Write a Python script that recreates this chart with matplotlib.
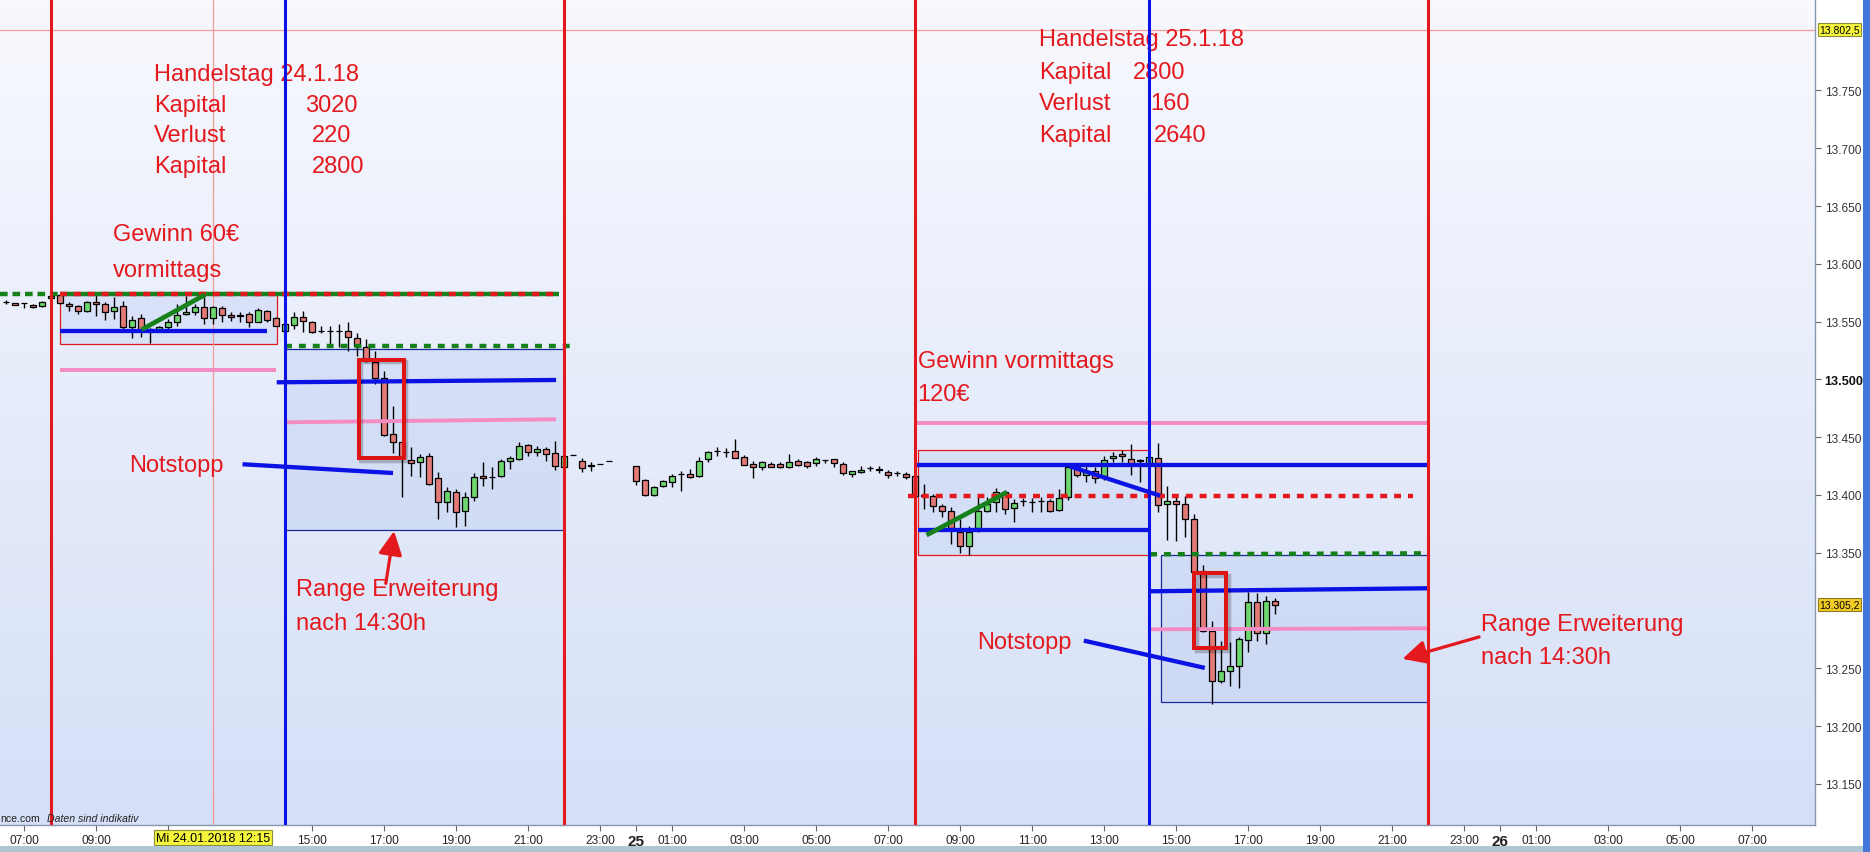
import matplotlib
matplotlib.use('Agg')
import matplotlib.pyplot as plt
import numpy as np
from matplotlib.patches import Rectangle
from matplotlib.font_manager import fontManager
from matplotlib.colors import LinearSegmentedColormap
import matplotlib.transforms as mtrans

names = {f.name for f in fontManager.ttflist}
FONT = 'Liberation Sans' if 'Liberation Sans' in names else 'DejaVu Sans'
NARROW = 'Liberation Sans Narrow' if 'Liberation Sans Narrow' in names else FONT
plt.rcParams['font.family'] = [FONT, 'DejaVu Sans']
plt.rcParams['lines.scale_dashes'] = False

# ---------------- data (hours since 24.01.2018 00:00, prices) ----------------
T1 = [6.5, 6.75, 7.0, 7.25, 7.5, 7.75, 8.0, 8.25, 8.5, 8.75,
      9.0, 9.25, 9.5, 9.75, 10.0, 10.25, 10.5, 10.75, 11.0, 11.25,
      11.5, 11.75, 12.0, 12.25, 12.5, 12.75, 13.0, 13.25, 13.5, 13.75,
      14.0, 14.25, 14.5, 14.75, 15.0, 15.25, 15.5, 15.75, 16.0, 16.25,
      16.5, 16.75, 17.0, 17.25, 17.5, 17.75, 18.0, 18.25, 18.5, 18.75,
      19.0, 19.25, 19.5, 19.75, 20.0, 20.25, 20.5, 20.75, 21.0, 21.25,
      21.5, 21.75, 22.0, 22.25, 22.5, 22.75, 23.0, 23.25]
O1 = [13567, 13566, 13565.8, 13564.7, 13563.2, 13570, 13573.3, 13565.3, 13563.2, 13559.5,
      13566.7, 13565.3, 13559.5, 13563.2, 13545.1, 13552.9, 13543, 13542, 13545, 13549.4,
      13557, 13558.6, 13563, 13552.9, 13561.5, 13555.7, 13555.2, 13556.6, 13550, 13559.5,
      13552.9, 13541.6, 13547.4, 13553.7, 13549.9, 13541.6, 13542, 13542, 13542.2, 13535.5,
      13528.3, 13515.3, 13501.2, 13452.8, 13446.2, 13430, 13428.3, 13433.5, 13414.4, 13393.6,
      13402.9, 13385.9, 13398.6, 13416.2, 13415.3, 13416.2, 13429.7, 13431.1, 13443.3, 13437.5,
      13439.8, 13436.3, 13424.4, 13434.6, 13429.7, 13425.4, 13426.8, 13429.1]
H1 = [13569, 13566.5, 13566, 13565, 13567.5, 13572.5, 13574, 13566.7, 13564.4, 13568.1,
      13576, 13566.7, 13571, 13567.6, 13554.6, 13556.6, 13544.5, 13546, 13552.3, 13565.3,
      13572.5, 13565.3, 13573.3, 13563.2, 13563.8, 13558, 13558, 13558, 13561.5, 13560.4,
      13553.7, 13548.2, 13558.6, 13559.5, 13550.8, 13546.5, 13546.5, 13547.9, 13549.4, 13539.8,
      13535, 13524.9, 13507.6, 13476.7, 13446.5, 13441.2, 13435.5, 13436.4, 13420.2, 13406.6,
      13405.2, 13402.9, 13419, 13428.8, 13424, 13431.1, 13434, 13445.6, 13444.1, 13442.1,
      13441.8, 13447, 13435, 13434.8, 13432, 13428.3, 13427, 13429.3]
L1 = [13565, 13564, 13561.5, 13562, 13562.5, 13569.5, 13565, 13559, 13556.6, 13558.1,
      13554.6, 13551.7, 13552, 13542.2, 13535.6, 13536.4, 13531.2, 13541, 13542.2, 13546.5,
      13555.7, 13555.7, 13548, 13548, 13549.4, 13550.8, 13549.4, 13545.1, 13549.4, 13550,
      13546, 13541, 13543.6, 13540.7, 13539.8, 13539.8, 13527.7, 13527.7, 13524.9, 13520.5,
      13514.8, 13496, 13451.3, 13436.3, 13398, 13416.7, 13415.9, 13409, 13379.2, 13385,
      13372, 13373.5, 13395, 13408, 13405.2, 13415.3, 13422.5, 13430, 13434, 13434,
      13429.7, 13422, 13423, 13434.4, 13420.2, 13421, 13426.6, 13428.9]
C1 = [13567, 13564.5, 13565.8, 13562.7, 13567.3, 13572, 13565.8, 13563.8, 13559.5, 13566.7,
      13565.3, 13558.6, 13562.4, 13545.1, 13551.7, 13543.1, 13544, 13545.6, 13549.4, 13555.7,
      13558.4, 13562.4, 13552.9, 13562.4, 13555.7, 13553.7, 13555.2, 13550, 13560.4, 13551.7,
      13546.5, 13547.8, 13553.7, 13550.2, 13541.3, 13541.6, 13542.2, 13542, 13536.4, 13529.2,
      13516.2, 13501.2, 13451.9, 13446.2, 13432.6, 13427.4, 13432.6, 13409.5, 13393.6, 13403.8,
      13385, 13398.6, 13415.9, 13414.4, 13415.3, 13429.1, 13432, 13442.7, 13436.9, 13439.8,
      13435.5, 13425.4, 13433.5, 13434.6, 13423.1, 13425.4, 13426.8, 13429.1]

T2 = [24.0, 24.25, 24.5, 24.75, 25.0, 25.25, 25.5, 25.75, 26.0, 26.25,
      26.5, 26.75, 27.0, 27.25, 27.5, 27.75, 28.0, 28.25, 28.5, 28.75,
      29.0, 29.25, 29.5, 29.75, 30.0, 30.25, 30.5, 30.75, 31.0, 31.25,
      31.5, 31.75, 32.0, 32.25, 32.5, 32.75, 33.0, 33.25, 33.5, 33.75,
      34.0, 34.25, 34.5, 34.75, 35.0, 35.25, 35.5, 35.75, 36.0, 36.25,
      36.5, 36.75, 37.0, 37.25, 37.5, 37.75, 38.0, 38.25, 38.5, 38.75,
      39.0, 39.25, 39.5, 39.75, 40.0, 40.25, 40.5, 40.75, 41.0, 41.25,
      41.5, 41.75]
O2 = [13424.8, 13413.3, 13400, 13408.1, 13411, 13418.2, 13418.2, 13416.2, 13431.1, 13437.8,
      13436.9, 13438.3, 13432.6, 13426.8, 13424.5, 13426.8, 13426.8, 13424.5, 13429.7, 13428.3,
      13427.4, 13430.3, 13431.1, 13426.8, 13418.2, 13419.6, 13423, 13421.9, 13420.2, 13419,
      13418.2, 13416.1, 13400, 13399.4, 13390.2, 13385.9, 13368.3, 13355.6, 13371.2, 13385.9,
      13393.7, 13402.3, 13388.5, 13394.5, 13393.7, 13394.5, 13394.5, 13387.3, 13398, 13423.9,
      13417.3, 13421, 13416.7, 13431.7, 13435.2, 13431.1, 13430, 13425.9, 13431.7, 13392.2,
      13394.5, 13392.2, 13379.2, 13334.5, 13282.1, 13238.8, 13247.5, 13251.8, 13274.6, 13307.2,
      13280.6, 13308.6]
H2 = [13425.4, 13413.5, 13408.1, 13413.3, 13418.2, 13421, 13422.5, 13432.6, 13438.3, 13441.2,
      13440.4, 13448.4, 13434.6, 13429.7, 13429.7, 13428.3, 13428.8, 13435.5, 13431.1, 13429.7,
      13432.6, 13430.5, 13431.3, 13428.3, 13421, 13424.8, 13425.4, 13425.4, 13421.9, 13421,
      13419.6, 13416.7, 13409.5, 13400.9, 13392.2, 13389.3, 13379.2, 13372.9, 13398, 13398,
      13405.8, 13404.6, 13396.5, 13397.1, 13397.1, 13398, 13396.5, 13405.2, 13426.8, 13425.4,
      13425.4, 13423.9, 13434, 13437.5, 13439.2, 13444.1, 13431.1, 13433, 13445, 13408.1,
      13398, 13399.4, 13383.6, 13339.4, 13290.7, 13274, 13272.6, 13276.9, 13315.8, 13314.9,
      13312.9, 13310.6]
L2 = [13408.6, 13399.4, 13399.4, 13406.6, 13406.6, 13403.8, 13415, 13415.3, 13428.3, 13433.5,
      13432.6, 13431.7, 13426, 13414.7, 13421.6, 13423.9, 13423.4, 13423.4, 13424.8, 13423.4,
      13425.4, 13427.4, 13424, 13417.6, 13415.3, 13419.4, 13421, 13419, 13414.7, 13416.7,
      13413.8, 13398, 13387.9, 13385, 13380.7, 13357.6, 13349.8, 13348.4, 13367.7, 13385,
      13385.6, 13383.6, 13376.4, 13390.8, 13385.6, 13385, 13385, 13386.4, 13396, 13415.3,
      13411, 13410.4, 13413.3, 13428.3, 13428.3, 13417.6, 13411.5, 13425, 13385, 13361.1,
      13359.9, 13363.4, 13333.1, 13281.2, 13219.2, 13237.4, 13235, 13232.8, 13264.5, 13273.4,
      13271.1, 13297]
C2 = [13412.4, 13400, 13406.6, 13412.4, 13416.7, 13418.2, 13415.3, 13429.7, 13436.9, 13437.8,
      13436.9, 13431.7, 13426.2, 13423.9, 13428.3, 13424.5, 13424.5, 13428.3, 13426.2, 13425.4,
      13431.1, 13430.3, 13427.4, 13418.7, 13420.5, 13421.9, 13423, 13421.9, 13417.3, 13419,
      13415.3, 13398.8, 13399, 13390.8, 13385.9, 13371.2, 13355.6, 13368.3, 13385.9, 13392.2,
      13402.3, 13387.9, 13392.8, 13394.5, 13393.7, 13394.5, 13385.9, 13397.1, 13423.9, 13417.3,
      13420.8, 13414.4, 13430.6, 13434, 13433.5, 13426.8, 13429, 13432.6, 13391.6, 13394.5,
      13392.2, 13379.2, 13333.7, 13282.1, 13238.8, 13247.5, 13251.8, 13275.4, 13307.2, 13280.6,
      13308.6, 13305.2]

# session markers (hours)
red_vlines = [7.75, 22.0, 31.75, 46.0]
blue_vlines = [14.25, 38.25]
cross_h, cross_price = 12.25, 13802.5
last_price = 13305.2

# drawn levels: (h_start, h_end, price_start, price_end)
blue_levels = [(8.0, 13.76, 13541.6, 13541.6), (14.02, 21.78, 13497.5, 13499.5),
               (31.8, 46.0, 13426.2, 13426.2), (31.82, 38.28, 13370.0, 13370.0),
               (38.28, 46.0, 13316.7, 13319.3)]
blue_slopes = [(36.05, 38.56, 13424.8, 13399.4)]
stop_lines = [(13.07, 17.25, 13426.6, 13419.0), (36.44, 39.8, 13274.0, 13250.4)]
pink_levels = [(8.0, 14.0, 13508.1, 13508.1), (14.28, 21.78, 13462.9, 13465.5),
               (31.78, 46.0, 13462.0, 13462.0), (38.28, 46.0, 13283.8, 13284.7)]
green_trends = [(10.27, 12.03, 13543.1, 13573.3), (32.07, 34.3, 13365.3, 13402.3)]
green_dashed = [(14.25, 22.2, 13529.2, 13529.2), (38.28, 46.0, 13348.7, 13349.5)]
top_level = 13573.5
top_level_span = (6.333, 8.0, 21.85)
red_dashed = [(31.56, 45.58, 13399.4, 13399.4)]
red_ranges = [(8.0, 14.02, 13530.7, 13573.9), (31.84, 38.25, 13348.1, 13438.6)]
blue_ranges = [(14.25, 22.0, 13370.0, 13526.3), (38.57, 46.0, 13220.6, 13348.4)]
highlight_boxes = [(16.3, 17.55, 13431.7, 13516.8), (39.5, 40.4, 13267.6, 13332.5)]
arrows = [((17.05, 13323.5), (17.28, 13368.9)), ((47.42, 13277.2), (45.29, 13258.2))]

y_ticks = [13150, 13200, 13250, 13350, 13400, 13450, 13500, 13550, 13600, 13650, 13700, 13750]
x_tick_pos = [7, 9, 11, 15, 17, 19, 21, 23, 24, 25, 27, 29, 31, 33, 35, 37, 39, 41, 43, 45, 47,
              48, 49, 51, 53, 55]
x_tick_lab = ['07:00', '09:00', '11:00', '15:00', '17:00', '19:00', '21:00', '23:00', '25',
              '01:00', '03:00', '05:00', '07:00', '09:00', '11:00', '13:00', '15:00', '17:00', '19:00',
              '21:00', '23:00', '26', '01:00', '03:00', '05:00', '07:00']

notes = [
    (10.61, 13759.3, 'Handelstag 24.1.18'),
    (10.61, 13732.4, 'Kapital'), (14.81, 13732.4, '3020'),
    (10.61, 13706.5, 'Verlust'), (15.01, 13706.5, '220'),
    (10.61, 13679.7, 'Kapital'), (14.99, 13679.7, '2800'),
    (9.48, 13620.3, 'Gewinn 60€'), (9.48, 13589.7, 'vormittags'),
    (9.91, 13420.5, 'Notstopp'),
    (14.55, 13313.2, 'Range Erweiterung'), (14.55, 13284.3, 'nach 14:30h'),
    (35.19, 13789.3, 'Handelstag 25.1.18'),
    (35.19, 13760.5, 'Kapital'), (37.80, 13760.5, '2800'),
    (35.19, 13733.9, 'Verlust'), (38.28, 13733.9, '160'),
    (35.19, 13706.5, 'Kapital'), (38.39, 13706.5, '2640'),
    (31.82, 13510.3, 'Gewinn vormittags'), (31.82, 13482.4, '120€'),
    (33.47, 13267.8, 'Notstopp'),
    (47.47, 13283.3, 'Range Erweiterung'), (47.47, 13254.4, 'nach 14:30h'),
]

# ---------------- styling ----------------
RED = '#E3191D'
BLUE = '#0A12E4'
PINK = '#F48CC4'
GREEN = '#16801A'
C_UP = '#6ED66E'
C_DN = '#E27A78'

W, H = 1870, 853
fig = plt.figure(figsize=(W / 100, H / 100), dpi=100)
fig.patch.set_facecolor('white')
ax = fig.add_axes([0, 27 / H, 1815 / W, 826 / H])
XMIN, XMAX = 6.3333, 56.75
YMIN, YMAX = 13114.5, 13829.1
ax.set_xlim(XMIN, XMAX)
ax.set_ylim(YMIN, YMAX)

# gradient background
cmap = LinearSegmentedColormap.from_list('bg', ['#D5DFF7', '#F8F9FE'])
grad = np.linspace(0, 1, 256).reshape(-1, 1)
ax.imshow(grad, extent=[XMIN, XMAX, YMIN, YMAX], origin='lower', aspect='auto',
          cmap=cmap, zorder=0, interpolation='bicubic')

# range boxes
for (h0, h1, p0, p1) in red_ranges:
    ax.add_patch(Rectangle((h0, p0), h1 - h0, p1 - p0, fc='#C3D2F3', alpha=0.45, ec='none', zorder=1))
    ax.add_patch(Rectangle((h0, p0), h1 - h0, p1 - p0, fc='none', ec=RED, lw=0.9, zorder=1.2))
for (h0, h1, p0, p1) in blue_ranges:
    ax.add_patch(Rectangle((h0, p0), h1 - h0, p1 - p0, fc='#C3D2F3', alpha=0.5, ec='none', zorder=1))
    ax.add_patch(Rectangle((h0, p0), h1 - h0, p1 - p0, fc='none', ec='#1A2A9A', lw=0.9, zorder=1.2))

# candles
bw = 0.18
for T, O, Hh, L, C in ((T1, O1, H1, L1, C1), (T2, O2, H2, L2, C2)):
    for t, o, hi, lo, c in zip(T, O, Hh, L, C):
        up = c >= o
        if hi - lo > 0.5:
            ax.vlines(t, lo, hi, color='black', lw=1.0, zorder=3)
        b = min(o, c)
        hgt = max(abs(c - o), 0.3)
        ax.add_patch(Rectangle((t - bw / 2, b), bw, hgt, fc=C_UP if up else C_DN,
                               ec='black', lw=0.9, zorder=3.1))

# crosshair
ax.axvline(cross_h, color='#F29A9A', lw=0.9, zorder=2)
ax.axhline(cross_price, color='#F29A9A', lw=0.9, zorder=2)

# top level (green/red dashed)
a, b, c = top_level_span
ax.plot([a, b], [top_level, top_level], color=GREEN, lw=3.2, ls=(0, (5.5, 3.5)), zorder=4, solid_capstyle='butt')
ax.plot([b, c], [top_level, top_level], color=GREEN, lw=3.2, zorder=4, solid_capstyle='butt')
ax.plot([b, c], [top_level, top_level], color=RED, lw=3.2, ls=(0, (5, 5)), zorder=4.1)

for (h0, h1, p0, p1) in green_dashed:
    ax.plot([h0, h1], [p0, p1], color=GREEN, lw=3.2, ls=(0, (5, 5)), zorder=4)
for (h0, h1, p0, p1) in red_dashed:
    ax.plot([h0, h1], [p0, p1], color=RED, lw=3.2, ls=(0, (5, 5)), zorder=4)
for (h0, h1, p0, p1) in pink_levels:
    ax.plot([h0, h1], [p0, p1], color=PINK, lw=2.8, zorder=4, solid_capstyle='butt')
for (h0, h1, p0, p1) in blue_levels + blue_slopes + stop_lines:
    ax.plot([h0, h1], [p0, p1], color=BLUE, lw=3.1, zorder=4.2, solid_capstyle='butt')
for (h0, h1, p0, p1) in green_trends:
    ax.plot([h0, h1], [p0, p1], color=GREEN, lw=3.4, zorder=4.2, solid_capstyle='butt')

# highlight boxes with a soft outline shadow
shadow_tr = mtrans.offset_copy(ax.transData, fig=fig, x=2.5, y=-2.5, units='dots')
for (h0, h1, p0, p1) in highlight_boxes:
    ax.add_patch(Rectangle((h0, p0), h1 - h0, p1 - p0, fc='none', ec='black', alpha=0.22, lw=3.2,
                           zorder=4.9, transform=shadow_tr))
    ax.add_patch(Rectangle((h0, p0), h1 - h0, p1 - p0, fc='none', ec='#DD1515', lw=2.9, zorder=5))

# notes
for (x, y, s) in notes:
    ax.text(x, y, s, color=RED, fontsize=17, ha='left', va='baseline', zorder=5.5)

# arrows
for (tail, tip) in arrows:
    ax.annotate('', xy=tip, xytext=tail,
                arrowprops=dict(arrowstyle='-|>,head_length=0.9,head_width=0.45', color=RED, lw=2.3,
                                shrinkA=0, shrinkB=0, mutation_scale=16), zorder=6)

# vertical session lines
for v in red_vlines:
    ax.axvline(v, color=RED, lw=2.2, zorder=6)
for v in blue_vlines:
    ax.axvline(v, color=BLUE, lw=2.2, zorder=6)

# axes styling
for s in ('left', 'top'):
    ax.spines[s].set_visible(False)
for s in ('right', 'bottom'):
    ax.spines[s].set_color('#8898AC')
    ax.spines[s].set_linewidth(1.0)
ax.yaxis.tick_right()
ax.set_yticks(y_ticks)
ax.set_yticklabels([f'{v / 1000:.3f}' for v in y_ticks])
ax.tick_params(axis='y', direction='out', length=4, width=0.8, color='#666666', pad=3,
               labelsize=8.6, labelcolor='#333333')
for lab, v in zip(ax.get_yticklabels(), y_ticks):
    lab.set_fontfamily(FONT)
    if v == 13500:
        lab.set_fontweight('bold')
        lab.set_color('#111111')
        lab.set_fontsize(9.2)
ax.set_xticks(x_tick_pos)
ax.set_xticklabels(x_tick_lab)
ax.tick_params(axis='x', direction='out', length=4, width=0.8, color='#666666', pad=2.5,
               labelsize=8.6, labelcolor='#222222')
for lab, s in zip(ax.get_xticklabels(), x_tick_lab):
    lab.set_fontfamily(NARROW)
    if ':' not in s:
        lab.set_fontweight('bold')
        lab.set_fontsize(11)

# price labels on the right axis
btr = mtrans.blended_transform_factory(ax.transAxes, ax.transData)
ax.text(1.0022, cross_price, '13.802,5', transform=btr, ha='left', va='center', fontsize=7.5,
        color='black', zorder=20, clip_on=False,
        bbox=dict(boxstyle='square,pad=0.12', fc='#F4F43C', ec='#8C8C3C', lw=0.8))
ax.text(1.0022, last_price, '13.305,2', transform=btr, ha='left', va='center', fontsize=7.5,
        color='black', zorder=20, clip_on=False,
        bbox=dict(boxstyle='square,pad=0.12', fc='#F2CC22', ec='#8C7A2C', lw=0.8))

# date label under the crosshair
bxd = mtrans.blended_transform_factory(ax.transData, ax.transAxes)
ax.text(cross_h, -0.0152, 'Mi 24.01.2018 12:15', transform=bxd, ha='center', va='center',
        fontsize=9, color='black', zorder=20, clip_on=False, fontfamily=NARROW,
        bbox=dict(boxstyle='square,pad=0.12', fc='#F4F43C', ec='#8C8C3C', lw=0.8))

# source note
ax.text(0.0, 0.005, 'nce.com', transform=ax.transAxes, fontsize=7.6, color='#222222',
        ha='left', va='baseline', zorder=20)
ax.text(47 / 1815, 0.005, 'Daten sind indikativ', transform=ax.transAxes, fontsize=7.6,
        color='#222222', style='italic', ha='left', va='baseline', zorder=20)

# frame decorations
fig.patches.append(Rectangle((0, 0), 1, 6 / H, transform=fig.transFigure, fc='#AFC6D4', ec='none', zorder=0))
fig.patches.append(Rectangle((1863 / W, 0), 7 / W, 1, transform=fig.transFigure, fc='#4277DB', ec='none', zorder=0))

fig.savefig('out.png', dpi=100)
